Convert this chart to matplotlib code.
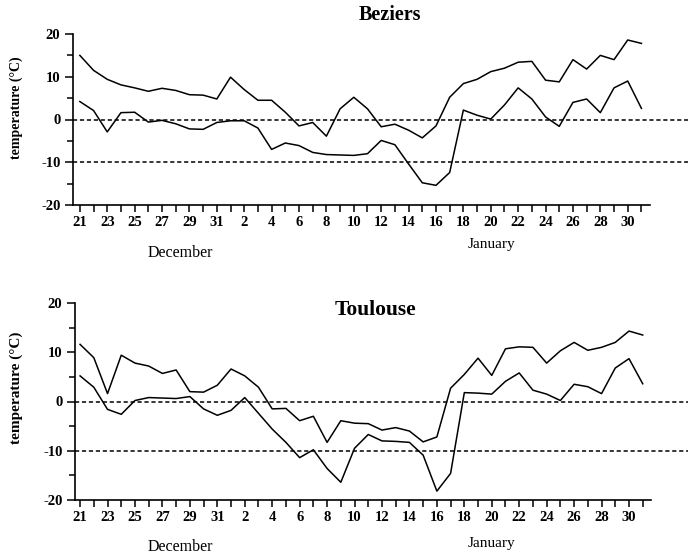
import matplotlib
matplotlib.use("Agg")
import matplotlib.pyplot as plt
import numpy as np

plt.rcParams['font.family'] = ['Liberation Serif', 'DejaVu Serif']
plt.rcParams['lines.scale_dashes'] = False

# days 21 Dec .. 31 Jan, one point per day
day_labels = ['21', '', '23', '', '25', '', '27', '', '29', '', '31',
              '', '2', '', '4', '', '6', '', '8', '', '10', '', '12', '',
              '14', '', '16', '', '18', '', '20', '', '22', '', '24', '',
              '26', '', '28', '', '30', '']

beziers_max = [15.0, 11.5, 9.4, 8.1, 7.4, 6.6, 7.3, 6.8, 5.8, 5.7, 4.8,
               9.9, 7.0, 4.5, 4.5, 1.7, -1.5, -0.7, -3.9, 2.5, 5.2,
               2.5, -1.7, -1.1, -2.5, -4.3, -1.5, 5.2, 8.4, 9.4, 11.2, 12.0,
               13.4, 13.6, 9.2, 8.8, 14.0, 11.8, 15.0, 14.0, 18.6, 17.8]
beziers_min = [4.2, 2.1, -2.9, 1.6, 1.7, -0.6, -0.2, -1.0, -2.2, -2.3, -0.7,
               -0.3, -0.3, -2.0, -7.0, -5.5, -6.1, -7.7, -8.2, -8.3, -8.4,
               -8.0, -4.9, -5.9, -10.4, -14.8, -15.4, -12.4, 2.2, 1.0, 0.1, 3.4,
               7.4, 4.8, 0.6, -1.6, 4.0, 4.8, 1.6, 7.4, 9.0, 2.6]

toulouse_max = [11.6, 8.9, 1.6, 9.4, 7.8, 7.2, 5.7, 6.4, 2.0, 1.9, 3.3,
                6.6, 5.2, 2.9, -1.5, -1.4, -3.9, -3.0, -8.3, -3.9, -4.4,
                -4.5, -5.8, -5.3, -6.0, -8.2, -7.2, 2.7, 5.5, 8.8, 5.3, 10.7,
                11.1, 11.0, 7.8, 10.3, 12.0, 10.4, 11.0, 12.0, 14.3, 13.5]
toulouse_min = [5.2, 2.9, -1.6, -2.6, 0.2, 0.8, 0.7, 0.6, 1.0, -1.5, -2.8,
                -1.8, 0.8, -2.4, -5.6, -8.3, -11.4, -9.8, -13.6, -16.4, -9.5,
                -6.7, -8.0, -8.1, -8.3, -10.9, -18.2, -14.6, 1.8, 1.7, 1.5, 4.1,
                5.8, 2.3, 1.5, 0.2, 3.5, 3.0, 1.6, 6.8, 8.7, 3.6]

ref_levels = [0, -10]

W, H = 688, 556
fig = plt.figure(figsize=(W / 100, H / 100), dpi=100)


def panel(rect, xlim, hi, lo, title, title_xy, title_fs, fs, ylab_fs, month_y):
    ax = fig.add_axes(rect)
    x = np.arange(len(hi))
    ax.plot(x, hi, color='black', lw=1.1)
    ax.plot(x, lo, color='black', lw=1.1)
    for lev in ref_levels:
        ax.axhline(lev, color='black', lw=1.1, linestyle=(0, (3, 2)))
    ax.set_xlim(*xlim)
    ax.set_ylim(-20, 20)
    for s in ['top', 'right']:
        ax.spines[s].set_visible(False)
    ax.spines['bottom'].set_bounds(xlim[0], 41.6)
    ax.spines['left'].set_linewidth(1.2)
    ax.spines['bottom'].set_linewidth(1.2)
    ax.set_xticks(x)
    ax.set_xticklabels(day_labels, fontsize=fs, fontweight='bold')
    ax.set_yticks([-20, -10, 0, 10, 20])
    ax.set_yticks([-15, -5, 5, 15], minor=True)
    ax.set_yticklabels(['-20', '-10', '0', '10', '20'], fontsize=fs, fontweight='bold')
    ax.tick_params(axis='x', direction='out', length=5, width=1.1, pad=3)
    ax.tick_params(axis='y', which='major', direction='out', length=6, width=1.1, pad=3)
    ax.tick_params(axis='y', which='minor', direction='out', length=4, width=1.1)
    ax.set_ylabel('temperature (°C)', fontsize=ylab_fs, fontweight='bold')
    left_px = rect[0] * W
    ax.yaxis.set_label_coords((23 - left_px) / (rect[2] * W), 0.57)
    fig.text(title_xy[0] / W, 1 - title_xy[1] / H, title, fontsize=title_fs,
             fontweight='bold', ha='center', va='center')
    fig.text(180 / W, 1 - month_y[0] / H, 'December', fontsize=11.5,
             ha='center', va='center')
    fig.text(491 / W, 1 - month_y[1] / H, 'January', fontsize=11,
             ha='center', va='center')
    return ax


panel([73 / W, 1 - 205 / H, (W - 73) / W, 171 / H], (-0.5, 44.4),
      beziers_max, beziers_min, 'Beziers', (390, 15), 14.5, 10.5, 10, (253, 245))
panel([75 / W, 1 - 500 / H, (W - 75) / W, 197 / H], (-0.37, 44.3),
      toulouse_max, toulouse_min, 'Toulouse', (375, 310), 15.5, 10.5, 11, (547, 543))

fig.savefig('out.png', dpi=100)
